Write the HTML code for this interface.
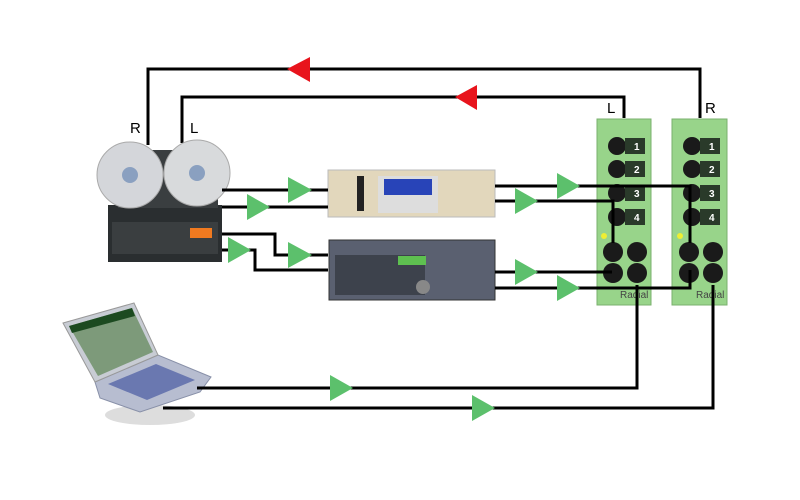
<!DOCTYPE html>
<html><head><style>body{margin:0;background:#fff}svg{display:block}</style></head><body>
<svg width="800" height="500" xmlns="http://www.w3.org/2000/svg" font-family="Liberation Sans, sans-serif">
<rect width="800" height="500" fill="#fff"/>
<!-- top lines -->
<g stroke="#000" stroke-width="3" fill="none">
<polyline points="148,145 148,69 700,69 700,118"/>
<polyline points="182,143 182,97 624,97 624,118"/>
</g>
<polygon points="287,69 310,57 310,82" fill="#e8141c"/>
<polygon points="455,97 477,85 477,110" fill="#e8141c"/>
<text x="130" y="133" font-size="15">R</text>
<text x="190" y="133" font-size="15">L</text>
<text x="607" y="113" font-size="15">L</text>
<text x="705" y="113" font-size="15">R</text>
<!-- laptop -->
<ellipse cx="150" cy="415" rx="45" ry="10" fill="#ddd"/>
<polygon points="95,382 158,355 211,377 200,392 140,412 100,398" fill="#b7bdd0" stroke="#8890a8"/>
<polygon points="108,384 156,364 195,380 147,400" fill="#6a78b0"/>
<polygon points="63,323 134,303 158,355 95,382" fill="#c8ccd4" stroke="#999"/>
<polygon points="69,326 132,308 153,352 98,376" fill="#7d9a7a"/>
<polygon points="69,326 132,308 135,316 72,333" fill="#1c4a20"/>
<!-- modules -->
<g>
<rect x="597" y="119" width="54" height="186" fill="#98d48a" stroke="#7ab06e"/>
<rect x="672" y="119" width="55" height="186" fill="#98d48a" stroke="#7ab06e"/>
</g>
<g fill="#1a1a1a">
<circle cx="617" cy="146" r="9"/><circle cx="617" cy="169" r="9"/><circle cx="617" cy="193" r="9"/><circle cx="617" cy="217" r="9"/>
<circle cx="692" cy="146" r="9"/><circle cx="692" cy="169" r="9"/><circle cx="692" cy="193" r="9"/><circle cx="692" cy="217" r="9"/>
<rect x="625" y="138" width="20" height="16" fill="#2a3a2a"/><rect x="625" y="161" width="20" height="16" fill="#2a3a2a"/><rect x="625" y="185" width="20" height="16" fill="#2a3a2a"/><rect x="625" y="209" width="20" height="16" fill="#2a3a2a"/>
<rect x="700" y="138" width="20" height="16" fill="#2a3a2a"/><rect x="700" y="161" width="20" height="16" fill="#2a3a2a"/><rect x="700" y="185" width="20" height="16" fill="#2a3a2a"/><rect x="700" y="209" width="20" height="16" fill="#2a3a2a"/>
<circle cx="613" cy="252" r="10"/><circle cx="637" cy="252" r="10"/><circle cx="613" cy="273" r="10"/><circle cx="637" cy="273" r="10"/>
<circle cx="689" cy="252" r="10"/><circle cx="713" cy="252" r="10"/><circle cx="689" cy="273" r="10"/><circle cx="713" cy="273" r="10"/>
</g>
<g fill="#fff" font-size="10" font-weight="bold">
<text x="634" y="150">1</text><text x="634" y="173">2</text><text x="634" y="197">3</text><text x="634" y="221">4</text>
<text x="709" y="150">1</text><text x="709" y="173">2</text><text x="709" y="197">3</text><text x="709" y="221">4</text>
</g>
<circle cx="604" cy="236" r="3" fill="#ee3"/><circle cx="680" cy="236" r="3" fill="#ee3"/>
<text x="620" y="298" font-size="10" fill="#444">Radial</text><text x="696" y="298" font-size="10" fill="#444">Radial</text>
<!-- tape deck -->
<rect x="108" y="205" width="114" height="57" fill="#2a2e30"/>
<rect x="112" y="222" width="106" height="32" fill="#3a3e40"/>
<rect x="190" y="228" width="22" height="10" fill="#f07a20"/>
<rect x="118" y="150" width="100" height="58" fill="#3a3e40"/>
<circle cx="130" cy="175" r="33" fill="#d4d6da" stroke="#aaa"/>
<circle cx="197" cy="173" r="33" fill="#d8dadc" stroke="#aaa"/>
<circle cx="130" cy="175" r="8" fill="#8aa0c0"/><circle cx="197" cy="173" r="8" fill="#8aa0c0"/>
<!-- sampler -->
<rect x="328" y="170" width="167" height="47" fill="#e2d7bc" stroke="#bbb"/>
<rect x="378" y="176" width="60" height="37" fill="#ddd"/>
<rect x="384" y="179" width="48" height="16" fill="#2844b8"/>
<rect x="357" y="176" width="7" height="35" fill="#222"/>
<!-- recorder -->
<rect x="329" y="240" width="166" height="60" fill="#5a6070" stroke="#333"/>
<rect x="335" y="255" width="90" height="40" fill="#3d424c"/>
<rect x="398" y="256" width="28" height="9" fill="#5ec050"/>
<circle cx="423" cy="287" r="7" fill="#888"/>
<!-- signal lines -->
<g stroke="#000" stroke-width="3" fill="none">
<polyline points="222,190 328,190"/>
<polyline points="222,207 328,207"/>
<polyline points="222,234 275,234 275,255 328,255"/>
<polyline points="222,250 255,250 255,270 328,270"/>
<polyline points="495,186 690,186 690,243"/>
<polyline points="495,201 613,201 613,243"/>
<polyline points="495,272 612,272"/>
<polyline points="495,288 690,288 690,270"/>
<polyline points="197,388 637,388 637,285"/>
<polyline points="163,408 713,408 713,285"/>
</g>
<g fill="#5cc06c">
<polygon points="288,177 288,203 312,190"/>
<polygon points="247,194 247,220 270,207"/>
<polygon points="288,242 288,268 312,255"/>
<polygon points="228,237 228,263 251,250"/>
<polygon points="557,173 557,199 580,186"/>
<polygon points="515,188 515,214 538,201"/>
<polygon points="515,259 515,285 538,272"/>
<polygon points="557,275 557,301 580,288"/>
<polygon points="330,375 330,401 353,388"/>
<polygon points="472,395 472,421 495,408"/>
</g>
</svg>
</body></html>
